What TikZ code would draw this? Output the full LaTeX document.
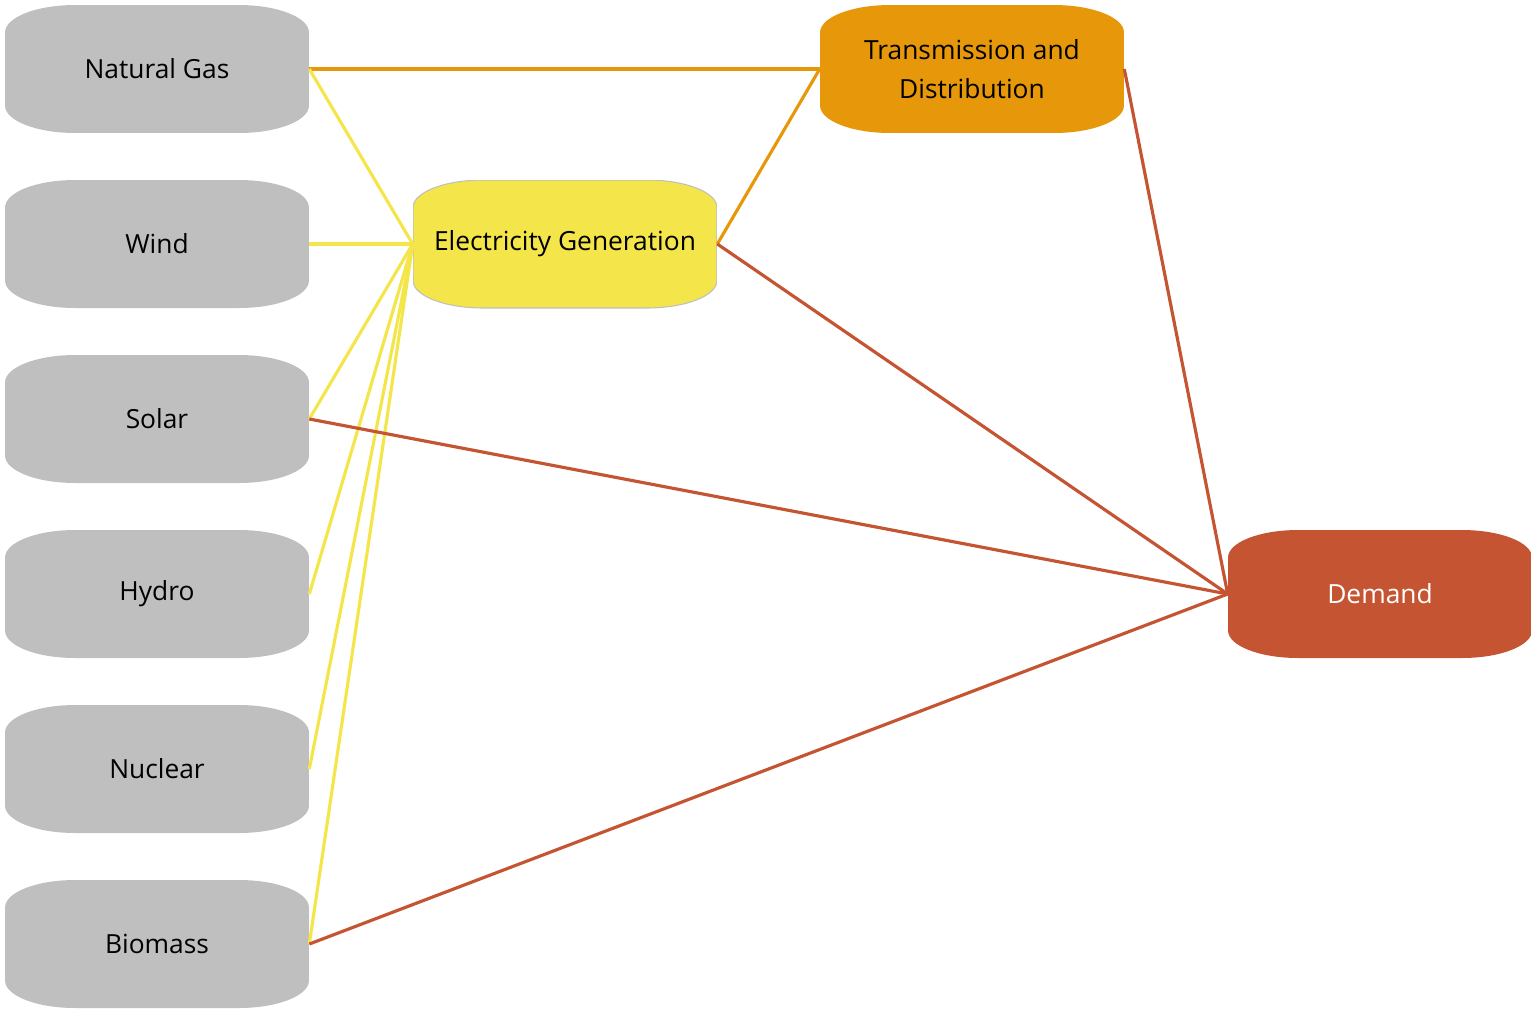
\documentclass[tikz,border=0pt]{standalone}
\usepackage{fontspec}
\setmainfont{Open Sans}

\definecolor{sourcegray}{HTML}{BFBFBF}
\definecolor{genyellow}{HTML}{F4E64A}
\definecolor{gridorange}{HTML}{E6980A}
\definecolor{demandred}{HTML}{C55532}

\tikzset{
    pill/.style={minimum width=6.08cm, minimum height=2.56cm, inner sep=0pt, align=center,
        font=\fontsize{15}{22}\selectfont,
        path picture={
            \fill[#1] ([xshift=1.4cm]path picture bounding box.north west)
                -- ([xshift=-1.4cm]path picture bounding box.north east)
                arc[start angle=90, end angle=0, x radius=1.4cm, y radius=0.55cm]
                -- ([yshift=0.55cm]path picture bounding box.south east)
                arc[start angle=0, end angle=-90, x radius=1.4cm, y radius=0.55cm]
                -- ([xshift=1.4cm]path picture bounding box.south west)
                arc[start angle=270, end angle=180, x radius=1.4cm, y radius=0.55cm]
                -- ([yshift=-0.55cm]path picture bounding box.north west)
                arc[start angle=180, end angle=90, x radius=1.4cm, y radius=0.55cm]
                -- cycle;
        }},
    link/.style={line width=1.8pt}
}

\begin{document}
\begin{tikzpicture}[x=0.02cm, y=-0.02cm]
    \useasboundingbox (0,0) rectangle (1531,1009);

    \node[pill=sourcegray] (gas) at (157, 69) {Natural Gas};
    \node[pill=sourcegray] (wind) at (157, 244) {Wind};
    \node[pill=sourcegray] (solar) at (157, 419) {Solar};
    \node[pill=sourcegray] (hydro) at (157, 594) {Hydro};
    \node[pill=sourcegray] (nuclear) at (157, 769) {Nuclear};
    \node[pill=sourcegray] (biomass) at (157, 944) {Biomass};

    \node[pill={genyellow, draw=sourcegray, line width=0.6pt}] (gen) at (565, 244) {Electricity Generation};
    \node[pill=gridorange] (grid) at (972, 69) {Transmission and\\Distribution};
    \node[pill=demandred, text=white] (demand) at (1380, 594) {Demand};

    % Links
    \draw[link, gridorange] (gas.east) -- (grid.west);
    \draw[link, genyellow] (gas.east) -- (gen.west);
    \draw[link, genyellow] (wind.east) -- (gen.west);
    \draw[link, genyellow] (solar.east) -- (gen.west);
    \draw[link, genyellow] (hydro.east) -- (gen.west);
    \draw[link, genyellow] (nuclear.east) -- (gen.west);
    \draw[link, genyellow] (biomass.east) -- (gen.west);

    \draw[link, gridorange] (gen.east) -- (grid.west);

    \draw[link, demandred] (gen.east) -- (demand.west);
    \draw[link, demandred] (grid.east) -- (demand.west);
    \draw[link, demandred] (solar.east) -- (demand.west);
    \draw[link, demandred] (biomass.east) -- (demand.west);

\end{tikzpicture}
\end{document}
